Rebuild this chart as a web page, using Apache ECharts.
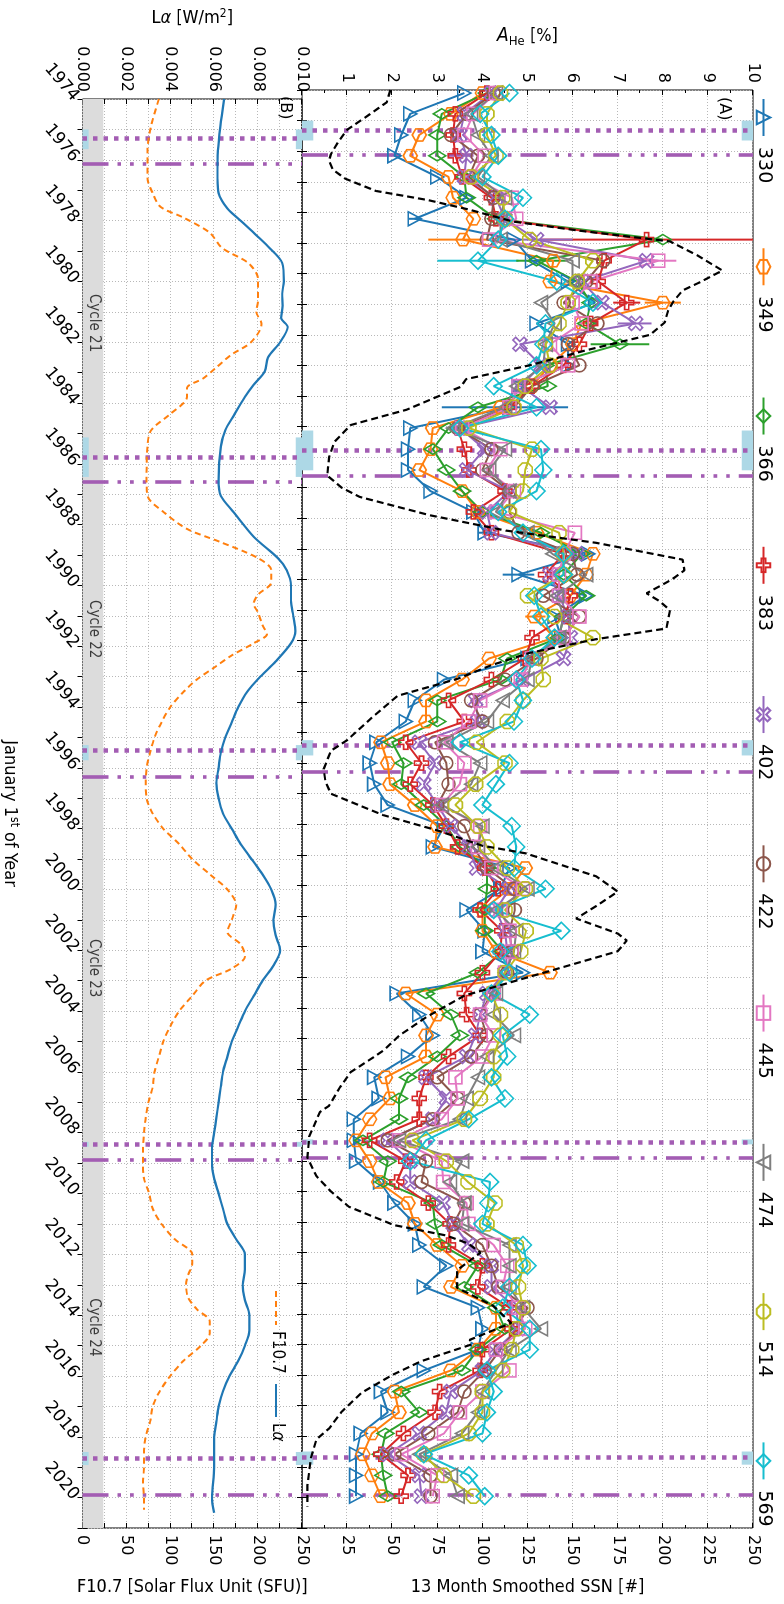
<!DOCTYPE html>
<html><head><meta charset="utf-8">
<script src="https://cdn.jsdelivr.net/npm/echarts@6/dist/echarts.min.js"></script>
<style>
html,body{margin:0;padding:0;background:#fff;overflow:hidden;width:784px;height:1604px;}
#chart{position:absolute;left:784px;top:0;width:1604px;height:784px;transform-origin:0 0;transform:rotate(90deg);}
</style></head><body><div id="chart"></div>
<script>
// ---------- DATA ----------
const windowYears = [1974.10,1974.78,1975.47,1976.15,1976.84,1977.52,1978.21,1978.89,1979.58,1980.26,1980.95,1981.63,1982.31,1983.00,1983.68,1984.37,1985.05,1985.74,1986.42,1987.11,1987.79,1988.47,1989.16,1989.84,1990.53,1991.21,1991.90,1992.58,1993.27,1993.95,1994.64,1995.32,1996.00,1996.69,1997.37,1998.06,1998.74,1999.43,2000.11,2000.80,2001.48,2002.16,2002.85,2003.53,2004.22,2004.90,2005.59,2006.27,2006.96,2007.64,2008.33,2009.01,2009.69,2010.38,2011.06,2011.75,2012.43,2013.12,2013.80,2014.49,2015.17,2015.85,2016.54,2017.22,2017.91,2018.59,2019.28,2019.96];

const aHe330 = [3.6,2.4,2.2,2.05,3.0,3.65,2.5,4.7,5.1,5.9,6.5,5.2,5.9,5.9,4.8,4.6,2.4, 2.35,2.35,2.85,3.8,4.05,6.35,4.8,6.3,5.6,5.75,5.0,3.15,2.5,2.3,1.65,1.5,1.6, 1.9,3.15,2.9,4.6,4.4,3.65,4.05,4.0,4.9,2.1,2.6,2.9,2.35,1.6,1.7,1.15,1.15, 1.2,1.73,2.05,2.5,2.6,3.2,2.7,3.9,4.0,3.9,2.7,1.75,1.9,1.3,1.2,1.2,1.2];
const aHe349 = [4.0,3.3,2.6,2.4,3.25,3.35,3.8,3.57,5.57,5.5,8.0,6.2,6.0,5.5,5.1,4.4,2.9, 2.85,2.6,3.55,3.9,5.2,6.45,6.3,5.95,5.15,5.6,4.15,3.55,2.75,2.75,1.75,1.9,1.95, 2.5,3.0,2.95,4.95,4.6,4.0,4.0,4.3,5.5,2.3,3.0,2.75,2.75,1.85,1.95,1.5,1.2, 1.5,1.7,2.35,2.5,3.0,3.55,3.3,4.3,4.3,3.9,3.3,2.05,2.15,1.55,1.35,1.55,1.75];
const aHe366 = [4.1,3.1,3.0,3.0,3.6,3.65,4.3,8.0,5.2,6.1,6.4,6.3,7.05,5.4,5.45,3.9,3.25, 2.9,3.2,3.55,4.0,5.3,6.2,5.8,6.3,5.8,5.7,4.55,4.4,3.0,3.0,2.0,2.25,2.2, 2.7,3.2,3.5,4.1,4.1,4.05,4.05,4.45,3.9,2.75,3.3,3.5,3.0,2.35,2.15,2.15,1.35, 1.9,1.8,2.9,2.95,3.1,3.9,3.6,4.3,4.5,3.9,3.55,2.2,2.6,1.85,1.75,1.8,1.9];
const aHe383 = [4.1,3.4,3.35,3.4,3.55,4.2,4.3,7.64,6.7,6.57,7.2,6.4,6.15,5.8,5.1,4.6,3.45, 3.6,3.7,4.5,3.8,4.2,5.8,5.4,5.95,5.85,5.1,4.95,4.2,3.25,3.6,2.3,2.65,2.4, 2.9,3.2,3.45,4.05,4.35,3.95,4.43,4.4,4.0,3.6,3.65,3.95,3.25,2.75,2.6,2.6,1.5, 2.3,2.1,2.8,3.28,3.25,4.0,3.9,4.6,4.65,4.0,3.95,3.05,2.95,2.25,1.75,2.35,2.2];
const aHe402 = [4.2,3.6,3.5,3.65,3.6,4.3,4.5,5.2,7.64,6.2,6.65,7.4,4.83,5.3,4.85,5.5,3.5, 4.05,3.65,4.6,4.1,4.2,6.1,5.5,5.7,5.9,5.95,5.8,4.9,3.85,3.9,2.6,2.95,2.7, 3.0,3.3,3.7,3.87,4.6,4.3,4.5,4.55,4.5,4.1,3.95,3.85,3.65,2.75,3.2,2.9,1.9, 2.4,2.4,3.13,3.35,3.7,4.2,4.2,4.75,4.8,4.3,4.0,3.3,3.2,2.6,1.9,2.6,2.65];
const aHe422 = [4.25,3.65,3.3,3.9,3.7,4.25,4.2,4.1,6.68,6.3,5.8,6.55,5.9,6.15,5.1,4.7,3.45, 4.2,4.0,4.6,4.6,4.8,6.0,6.1,5.35,6.15,5.8,5.2,4.5,3.75,4.0,2.95,3.2,3.25, 3.0,3.6,3.8,4.1,4.7,4.72,4.6,4.65,4.55,4.2,3.95,4.1,3.75,3.0,3.45,2.9,1.9, 2.75,2.65,3.6,3.36,4.0,4.2,4.35,5.0,4.75,4.4,4.05,3.6,3.45,2.8,2.05,2.85,2.85];
const aHe445 = [4.3,3.8,3.6,4.05,3.75,4.65,4.75,4.15,7.9,6.4,6.0,6.2,5.5,5.9,4.8,4.6,3.55, 4.4,4.1,4.7,4.3,6.05,5.8,5.7,5.7,6.15,5.8,5.1,4.85,3.95,3.7,3.15,3.6,3.5, 3.1,3.95,3.9,4.2,4.9,4.4,4.6,4.65,4.5,4.25,3.95,4.25,4.0,3.4,3.45,3.1,2.15, 3.1,3.13,3.65,3.69,4.25,4.55,4.45,4.8,4.95,4.3,4.6,4.0,3.5,3.15,2.2,3.0,2.9];
const aHe474 = [4.3,3.75,3.9,4.2,3.9,4.5,4.4,4.4,6.0,6.0,5.3,5.6,5.4,5.35,4.75,4.5,3.35, 4.5,4.15,4.6,4.3,5.0,5.55,6.3,5.65,5.8,5.7,5.1,5.0,4.45,4.1,3.2,3.95,3.75, 3.1,4.0,3.9,4.3,5.0,4.3,4.75,4.7,4.5,4.3,4.25,4.7,4.1,3.9,3.65,3.5,2.15, 3.55,3.28,3.6,3.55,4.6,4.6,4.6,4.9,5.3,4.6,4.3,4.0,3.9,3.55,2.6,3.3,3.45];
const aHe514 = [4.4,4.1,4.1,4.3,3.75,4.45,4.5,5.05,6.45,6.1,5.9,5.7,5.4,5.5,4.95,4.7,3.7, 5.1,4.95,4.9,4.6,5.7,5.8,5.8,5.0,5.6,6.45,5.3,5.35,4.9,4.55,3.87,4.5,3.85, 3.4,3.9,4.1,4.55,4.95,4.5,4.97,4.85,4.5,4.2,4.4,4.4,4.25,4.25,3.95,3.6,2.45, 3.2,3.68,4.28,4.1,4.75,4.9,4.8,4.9,4.75,4.65,4.45,4.0,4.0,3.7,2.7,3.15,3.8];
const aHe569 = [4.6,3.95,4.2,4.35,4.0,4.9,4.5,4.35,3.9,5.65,6.45,5.4,5.35,5.2,4.25,5.2,3.5, 5.3,5.35,5.2,4.35,4.9,5.8,5.8,5.15,5.3,5.6,5.1,4.75,4.9,4.7,3.5,4.6,4.3, 4.0,4.65,4.75,4.7,5.4,4.25,5.75,4.4,4.6,4.2,5.05,4.45,4.55,4.2,4.5,3.7,2.75, 2.4,4.17,4.13,4.0,4.9,5.0,4.6,4.45,5.05,5.05,4.1,4.25,4.1,4.0,2.7,3.7,4.05];

const speedLabels = ['330','349','366','383','402','422','445','474','514','569'];
const speedSeries = [aHe330,aHe349,aHe366,aHe383,aHe402,aHe422,aHe445,aHe474,aHe514,aHe569];

// error bars: series index, window index, low, high
const errSeries = [3,1,4,9,2,6,4,2,0,1,3,0,0,0,1];
const errWindow = [7,7,7,8,8,8,11,12,15,10,10,23,6,21,25];
const errLow    = [5.3,2.8,4.4,3.0,4.75,7.45,7.0,6.4,3.1,7.6,6.9,4.45,2.35,3.9,4.95];
const errHigh   = [10,4.35,6.0,4.8,5.85,8.3,7.75,7.7,5.9,8.4,7.5,5.15,2.65,4.2,5.4];

const ssnYear  = [1974.0,1974.4,1974.9,1975.3,1975.7,1976.1,1976.3,1976.6,1976.9,1977.3,1977.6,1977.9,1978.3,1978.6,1978.95,1979.4,1979.9,1980.3,1980.55,1980.9,1981.2,1981.6,1982.0,1982.5,1983.0,1983.45,1983.7,1984.45,1984.95,1985.5,1986.0,1986.6,1987.0,1987.3,1987.9,1988.4,1988.8,1989.35,1989.7,1990.0,1990.45,1990.7,1991.0,1991.6,1991.95,1992.4,1992.8,1993.25,1993.8,1994.0,1994.5,1995.25,1995.6,1996.2,1996.6,1997.0,1997.7,1998.2,1998.7,1998.95,1999.7,2000.2,2000.6,2001.08,2001.57,2001.8,2002.15,2002.8,2003.6,2004.3,2004.9,2005.4,2005.6,2006.1,2006.6,2007.2,2007.4,2008.2,2008.9,2009.5,2010.0,2010.5,2011.1,2011.44,2011.7,2012.0,2012.57,2013.15,2013.74,2014.3,2014.85,2015.0,2015.55,2016.0,2016.58,2017.2,2017.75,2018.1,2018.7,2019.6,2020.3];
const ssnValue = [49,47,35,25,20,16,15,17,24,41,70,92,117,154,204,219,233,220,211,206,203,201,193,158,126,91,88,58,27,18,15,14,22,32,71,113,163,211,212,205,191,198,204,202,163,126,105,86,53,49,39,25,16,12,13,16,45,75,100,124,163,175,165,152,175,180,175,137,90,69,54,45,40,27,21,15,10,4,3,8,16,26,51,80,92,99,86,86,106,116,93,94,66,50,33,22,15,8,5,3,3];

const f107Year  = [1974.0,1974.9,1975.7,1976.6,1977.1,1977.55,1977.9,1978.4,1978.9,1979.4,1979.93,1980.6,1981.0,1981.4,1982.0,1982.4,1982.84,1983.2,1983.5,1983.8,1984.36,1984.9,1985.43,1986.5,1987.05,1987.6,1988.14,1988.56,1989.1,1989.5,1989.9,1990.3,1990.6,1990.9,1991.3,1991.6,1991.9,1992.3,1992.7,1993.1,1993.5,1994.0,1994.5,1995.0,1995.5,1996.0,1996.5,1997.0,1997.5,1998.0,1998.5,1999.0,1999.5,2000.0,2000.5,2001.0,2001.4,2001.8,2002.2,2002.6,2003.0,2003.5,2004.0,2004.5,2005.0,2005.5,2006.0,2006.5,2007.0,2007.5,2008.0,2008.5,2009.0,2009.5,2010.0,2010.5,2011.0,2011.5,2012.0,2012.3,2012.7,2013.0,2013.4,2013.8,2014.2,2014.6,2015.0,2015.5,2016.0,2016.5,2017.0,2017.5,2018.0,2018.5,2019.0,2019.5,2020.0,2020.4];
const f107Value = [87,78,74,74,80,89,115,145,159,189,200,200,198,204,192,170,152,137,119,119,100,78,74,73,74,93,119,156,200,215,215,200,195,200,205,210,195,170,150,130,115,100,90,82,77,73,72,73,80,92,110,125,145,165,175,170,165,180,185,170,140,125,110,100,92,87,82,80,75,72,70,69,69,70,76,80,90,105,125,125,120,118,120,130,145,145,135,115,100,88,80,77,72,70,70,69,70,70];

const lyaYear  = [1974.0,1974.9,1975.7,1976.6,1977.1,1977.6,1978.0,1978.4,1978.85,1979.4,1980.0,1980.4,1980.8,1981.2,1981.5,1982.0,1982.5,1982.96,1983.4,1983.8,1984.4,1984.9,1985.43,1986.5,1987.05,1987.6,1988.4,1989.1,1989.5,1990.0,1990.5,1991.0,1991.5,1991.9,1992.5,1993.0,1993.5,1994.0,1994.5,1995.0,1995.5,1996.0,1996.5,1997.0,1997.5,1998.0,1998.5,1999.0,1999.5,2000.0,2000.5,2001.0,2001.5,2002.0,2002.5,2003.0,2003.5,2004.0,2004.5,2005.0,2005.5,2006.0,2006.5,2007.0,2007.5,2008.0,2008.5,2009.0,2009.5,2010.0,2010.5,2011.0,2011.5,2012.0,2012.5,2013.0,2013.5,2014.0,2014.5,2015.0,2015.5,2016.0,2016.5,2017.0,2017.5,2018.0,2019.0,2020.0,2020.5];
const lyaValue = [0.00645,0.00628,0.00617,0.00615,0.0062,0.0066,0.0072,0.0078,0.00845,0.0091,0.00917,0.0091,0.00912,0.00905,0.00935,0.009,0.00845,0.0083,0.0078,0.0074,0.0069,0.0065,0.0063,0.0062,0.0063,0.0069,0.0078,0.0089,0.0093,0.0095,0.0095,0.0096,0.0097,0.0095,0.0088,0.0081,0.0075,0.0071,0.0068,0.0065,0.0063,0.0062,0.0061,0.0062,0.0064,0.0068,0.0072,0.0077,0.0082,0.0086,0.0088,0.0087,0.0088,0.009,0.0087,0.0082,0.0078,0.0074,0.0071,0.0068,0.0066,0.0064,0.0063,0.0062,0.0061,0.006,0.0059,0.0059,0.006,0.0062,0.0064,0.0066,0.007,0.0074,0.0074,0.0073,0.0074,0.0076,0.0076,0.0074,0.0071,0.0067,0.0064,0.0062,0.0061,0.006,0.006,0.0059,0.006];

const minDotted  = [1975.3,1985.78,1995.42,2008.38,2018.7];
const minDashDot = [1976.13,1986.6,1996.28,2008.9,2019.9];
const spanStart  = [1975.0,1985.13,1995.25,2008.3,2018.5];
const spanEnd    = [1975.65,1986.43,1995.75,2008.46,2018.93];
const cycleNames   = ['Cycle 21','Cycle 22','Cycle 23','Cycle 24'];
const cycleCenters = [1981.37,1991.44,2002.59,2014.4];

// ---------- STYLE ----------
const colors = ['#1f77b4','#ff7f0e','#2ca02c','#d62728','#9467bd','#8c564b','#e377c2','#7f7f7f','#bcbd22','#17becf'];
const symbols = [
  'path://M50,4 L96,90 L4,90 Z',
  'path://M50,0 L93.3,25 L93.3,75 L50,100 L6.7,75 L6.7,25 Z',
  'path://M50,0 L80,50 L50,100 L20,50 Z',
  'path://M35,0 L65,0 L65,35 L100,35 L100,65 L65,65 L65,100 L35,100 L35,65 L0,65 L0,35 L35,35 Z',
  'path://M20,0 L50,30 L80,0 L100,20 L70,50 L100,80 L80,100 L50,70 L20,100 L0,80 L30,50 L0,20 Z',
  'circle',
  'rect',
  'path://M4,10 L96,10 L50,96 Z',
  'path://M30,0 L70,0 L100,30 L100,70 L70,100 L30,100 L0,70 L0,30 Z',
  'diamond'
];
const symSizes = [14,14,17,14,14,13,13,14,14,17];
const purple = '#a35db3';
const gridLine = {show:true, lineStyle:{color:'#b8b8b8', type:[1,2], width:1}};
const condensed = '"DejaVu Sans Condensed","Liberation Sans Narrow","DejaVu Sans"';

function xAx(grid, pos, showLabel, split, name) {
  return {type:'value', gridIndex:grid, position:pos, min:1974, max:2021, interval:1,
    name: name || '', nameLocation:'middle', nameGap:62,
    nameTextStyle:{fontFamily:condensed, fontSize:18, color:'#000',
      rich:{sup:{fontFamily:condensed, fontSize:12, color:'#000', padding:[0,0,9,0]}}},
    axisLine:{show:false},
    axisTick:{show:true, inside:true, length:5, lineStyle:{color:'#000'}},
    axisLabel:{show:showLabel, rotate:40, fontFamily:'DejaVu Sans', fontSize:17, color:'#000', margin:7,
      formatter: v => (Math.round(v)%2===0 ? String(Math.round(v)) : '')},
    splitLine: split ? gridLine : {show:false}};
}

const series = [];
speedSeries.forEach((arr, k) => {
  series.push({
    name: speedLabels[k], type:'line', xAxisIndex:0, yAxisIndex:0, z:5,
    data: windowYears.map((t,i)=>[t, arr[i]]),
    symbol: symbols[k], symbolSize: symSizes[k], symbolKeepAspect:true,
    lineStyle:{color:colors[k], width:2},
    itemStyle:{color:'none', borderColor:colors[k], borderWidth:1.6},
    emphasis:{disabled:true}, animation:false
  });
});
series.push({
  type:'custom', xAxisIndex:0, yAxisIndex:0, z:4, animation:false,
  data: errSeries.map((s,k)=>[windowYears[errWindow[k]], errLow[k], errHigh[k], s]),
  encode:{x:0, y:[1,2]},
  renderItem:(params, api) => {
    const t = api.value(0);
    const p1 = api.coord([t, api.value(1)]);
    const p2 = api.coord([t, api.value(2)]);
    return {type:'line', shape:{x1:p1[0],y1:p1[1],x2:p2[0],y2:p2[1]},
      style:{stroke: colors[api.value(3)], lineWidth:2}};
  }
});
series.push({
  name:'SSN', type:'line', xAxisIndex:1, yAxisIndex:1, z:6, showSymbol:false, symbol:'none',
  data: ssnYear.map((t,i)=>[t, ssnValue[i]]),
  lineStyle:{color:'#000', width:2.2, type:[7,4]}, animation:false
});
series.push({
  name:'Lα', type:'line', xAxisIndex:2, yAxisIndex:2, z:6, symbol:'none', smooth:0.3,
  data: lyaYear.map((t,i)=>[t, lyaValue[i]]),
  itemStyle:{color:'#1f77b4'}, lineStyle:{color:'#1f77b4', width:2.2}, animation:false
});
series.push({
  name:'F10.7', type:'line', xAxisIndex:2, yAxisIndex:3, z:6, symbol:'none', smooth:0.3,
  data: f107Year.map((t,i)=>[t, f107Value[i]]),
  itemStyle:{color:'#ff7f0e'}, lineStyle:{color:'#ff7f0e', width:2, type:[6,4]}, animation:false
});

function markLinesFor() {
  const d = [];
  minDotted.forEach(v => d.push({xAxis:v, lineStyle:{color:purple, width:4.5, type:[4.5,6]}}));
  minDashDot.forEach(v => d.push({xAxis:v, lineStyle:{color:purple, width:3.6, type:[26,9,3.6,9,3.6,9,3.6,9]}}));
  return {symbol:['none','none'], silent:true, label:{show:false}, animation:false, data:d};
}
// decoration, panel A
series.push({
  type:'line', xAxisIndex:1, yAxisIndex:0, data:[], z:2, silent:true,
  markLine: markLinesFor(),
  markArea: {silent:true, itemStyle:{color:'#add8e6'}, data:
    spanStart.flatMap((s,k)=>[
      [{xAxis:s, yAxis:0},{xAxis:spanEnd[k], yAxis:0.25}],
      [{xAxis:s, yAxis:9.75},{xAxis:spanEnd[k], yAxis:10}]
    ])}
});
// decoration, panel B
series.push({
  type:'line', xAxisIndex:3, yAxisIndex:2, data:[], z:1, silent:true,
  markArea: {silent:true, itemStyle:{color:'#dcdcdc'}, data:[[{xAxis:1974, yAxis:0},{xAxis:2021, yAxis:0.00095}]]}
});
series.push({
  type:'line', xAxisIndex:3, yAxisIndex:2, data:[], z:2, silent:true,
  markLine: markLinesFor(),
  markArea: {silent:true, itemStyle:{color:'#add8e6'}, data:
    spanStart.flatMap((s,k)=>[
      [{xAxis:s, yAxis:0},{xAxis:spanEnd[k], yAxis:0.00028}],
      [{xAxis:s, yAxis:0.00972},{xAxis:spanEnd[k], yAxis:0.01}]
    ])}
});
series.push({
  type:'scatter', xAxisIndex:2, yAxisIndex:2, z:7, symbolSize:0, silent:true,
  data: cycleCenters.map((t,i)=>({value:[t, 0.0005], name:cycleNames[i]})),
  label:{show:true, position:'inside', formatter:p=>p.name, fontFamily:condensed, fontSize:15, color:'#111'},
  animation:false
});

const option = {
  backgroundColor:'#fff',
  animation:false,
  textStyle:{fontFamily:'DejaVu Sans'},
  grid:[
    {left:90, right:63, top:31, height:451, show:true, borderColor:'#000', borderWidth:1, backgroundColor:'transparent'},
    {left:90, right:63, top:482, height:226, show:true, borderColor:'#000', borderWidth:1, backgroundColor:'transparent'}
  ],
  legend:[
    {data:speedLabels, top:6, left:93, itemWidth:37, itemHeight:17, itemGap:64,
      textStyle:{fontSize:19, fontFamily:'DejaVu Sans', color:'#000', padding:[0,0,0,6]}}
  ],
  xAxis:[
    xAx(0,'bottom',false,true),
    xAx(0,'top',false,false),
    xAx(1,'bottom',true,true,'January 1{sup|st} of Year'),
    xAx(1,'top',false,false)
  ],
  yAxis:[
    {type:'value', gridIndex:0, position:'left', min:0, max:10, interval:1,
      name:'{i|A}{s|He}{n| [%]}', nameLocation:'middle', nameGap:42, nameRotate:90,
      nameTextStyle:{fontSize:18, color:'#000', rich:{
        i:{fontStyle:'italic', fontSize:19, fontFamily:condensed, color:'#000'},
        s:{fontSize:13, fontFamily:condensed, color:'#000', padding:[10,0,0,0]},
        n:{fontSize:18, fontFamily:condensed, color:'#000'}}},
      axisLine:{show:false}, axisTick:{show:true, inside:true, length:5, lineStyle:{color:'#000'}},
      minorTick:{show:true, splitNumber:2, length:3, lineStyle:{color:'#000'}},
      axisLabel:{fontSize:16, fontFamily:'DejaVu Sans', color:'#000', margin:7, formatter:v=>v===0?'':String(v)},
      splitLine:gridLine},
    {type:'value', gridIndex:0, position:'right', min:0, max:250, interval:25,
      name:'13 Month Smoothed SSN [#]', nameLocation:'middle', nameGap:50, nameRotate:90,
      nameTextStyle:{fontSize:18, fontFamily:condensed, color:'#000'},
      axisLine:{show:false}, axisTick:{show:true, inside:true, length:5, lineStyle:{color:'#000'}},
      minorTick:{show:true, splitNumber:2, length:3, lineStyle:{color:'#000'}},
      axisLabel:{fontSize:16, fontFamily:'DejaVu Sans', color:'#000', margin:7, formatter:v=>v===0?'':String(v)},
      splitLine:{show:false}},
    {type:'value', gridIndex:1, position:'left', min:0, max:0.01, interval:0.001,
      name:'{n|L}{g|α}{n| [W/m}{p|2}{n|]}', nameLocation:'middle', nameGap:70, nameRotate:90,
      nameTextStyle:{fontSize:18, color:'#000', rich:{
        n:{fontSize:18, fontFamily:condensed, color:'#000'},
        g:{fontSize:18, fontStyle:'italic', fontFamily:condensed, color:'#000'},
        p:{fontSize:12, fontFamily:condensed, color:'#000', padding:[0,0,9,0]}}},
      axisLine:{show:false}, axisTick:{show:true, inside:true, length:5, lineStyle:{color:'#000'}},
      axisLabel:{fontSize:16, fontFamily:'DejaVu Sans', color:'#000', margin:7,
        formatter:v=>(Math.round(v*1000)%2===0 ? v.toFixed(3) : '')},
      splitLine:gridLine},
    {type:'value', gridIndex:1, position:'right', min:0, max:250, interval:25,
      name:'F10.7 [Solar Flux Unit (SFU)]', nameLocation:'middle', nameGap:50, nameRotate:90,
      nameTextStyle:{fontSize:18, fontFamily:condensed, color:'#000'},
      axisLine:{show:false}, axisTick:{show:true, inside:true, length:5, lineStyle:{color:'#000'}},
      axisLabel:{fontSize:16, fontFamily:'DejaVu Sans', color:'#000', margin:7,
        formatter:v=>(Math.round(v)%50===0 ? String(Math.round(v)) : '')},
      splitLine:{show:false}}
  ],
  graphic:[
    {type:'text', left:97, top:52, style:{text:'(A)', font:'16px "DejaVu Sans"', fill:'#000'}},
    {type:'text', left:96, top:491, style:{text:'(B)', font:'16px "DejaVu Sans"', fill:'#000'}},
    {type:'line', shape:{x1:1291, y1:508, x2:1325, y2:508}, style:{stroke:'#ff7f0e', lineWidth:2, lineDash:[6,4]}},
    {type:'text', left:1331, top:498, style:{text:'F10.7', font:'17px "DejaVu Sans Condensed", "DejaVu Sans"', fill:'#000'}},
    {type:'line', shape:{x1:1384, y1:508, x2:1417, y2:508}, style:{stroke:'#1f77b4', lineWidth:2.2}},
    {type:'text', left:1423, top:498, style:{text:'{n|L}{g|α}', rich:{
      n:{font:'17px "DejaVu Sans Condensed", "DejaVu Sans"', fill:'#000'},
      g:{font:'italic 17px "DejaVu Sans Condensed", "DejaVu Sans"', fill:'#000'}}}}
  ],
  series: series
};

const chart = echarts.init(document.getElementById('chart'), null, {renderer:'canvas', width:1604, height:784});
chart.setOption(option);
</script>
</body></html>
